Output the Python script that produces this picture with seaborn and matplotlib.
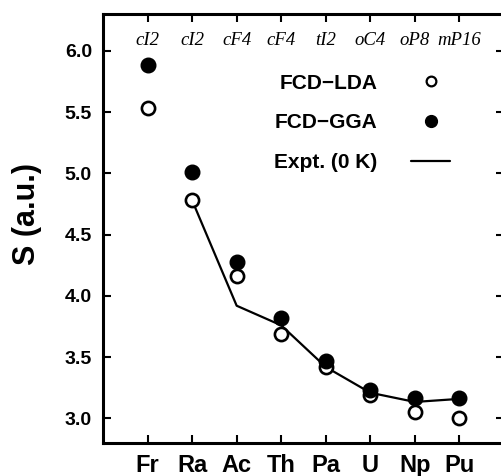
import matplotlib
matplotlib.use("Agg")
import matplotlib.pyplot as plt
import seaborn as sns
import pandas as pd
from matplotlib.lines import Line2D

elements = ["Fr", "Ra", "Ac", "Th", "Pa", "U", "Np", "Pu"]
structures = ["cI2", "cI2", "cF4", "cF4", "tI2", "oC4", "oP8", "mP16"]
lda = [5.53, 4.78, 4.16, 3.69, 3.42, 3.19, 3.05, 3.00]
gga = [5.88, 5.01, 4.28, 3.82, 3.47, 3.23, 3.17, 3.17]
expt_elements = ["Ra", "Ac", "Th", "Pa", "U", "Np", "Pu"]
expt = [4.78, 3.92, 3.76, 3.42, 3.21, 3.135, 3.16]

df = pd.DataFrame({"x": range(len(elements)), "LDA": lda, "GGA": gga})
dfe = pd.DataFrame({"x": [elements.index(e) for e in expt_elements], "S": expt})

sns.set_style("ticks")
plt.rcParams["font.family"] = ["Liberation Sans", "DejaVu Sans"]
for k in ["text.color", "axes.labelcolor", "xtick.color", "ytick.color", "axes.edgecolor"]:
    plt.rcParams[k] = "black"

fig = plt.figure(figsize=(5.02, 4.76), dpi=100)
ax = fig.add_axes([103 / 502, 33 / 476, 401 / 502, 429 / 476])

sns.lineplot(data=dfe, x="x", y="S", ax=ax, color="black", lw=1.6, legend=False)
ax.plot(df["x"], df["LDA"], ls="none", marker="o", ms=9.5, mfc="white", mec="black", mew=1.9, zorder=3)
ax.plot(df["x"], df["GGA"], ls="none", marker="o", ms=10.5, mfc="black", mec="black", zorder=3)

ax.set_xlim(-1, 8)
ax.set_ylim(2.8, 6.3)
ax.set_xticks(range(len(elements)))
ax.set_xticklabels(elements, fontsize=17, fontweight="bold")
yt = [3.0, 3.5, 4.0, 4.5, 5.0, 5.5, 6.0]
ax.set_yticks(yt)
ax.set_yticklabels([f"{v:.1f}" for v in yt], fontsize=14, fontweight="bold")
ax.set_xlabel("")
ax.set_ylabel("S (a.u.)", fontsize=22, fontweight="bold")
ax.yaxis.set_label_coords(-0.152, 0.534)
ax.tick_params(direction="in", length=6, width=1.5, top=True, right=True, pad=8)
for s in ax.spines.values():
    s.set_linewidth(2.2)

for i, st in enumerate(structures):
    ax.text(i, 0.939, st, transform=ax.get_xaxis_transform(), ha="center", va="center",
            fontsize=13.5, fontstyle="italic", family=["Liberation Serif", "DejaVu Serif"])

handles = [
    Line2D([], [], ls="none", marker="o", ms=7, mfc="white", mec="black", mew=1.6),
    Line2D([], [], ls="none", marker="o", ms=8.5, mfc="black", mec="black"),
    Line2D([], [], color="black", lw=1.6),
]
leg = ax.legend(handles, ["FCD\u2212LDA", "FCD\u2212GGA", "Expt. (0 K)"], loc="upper left",
                bbox_to_anchor=(0.38, 0.905), frameon=False, markerfirst=False,
                prop={"weight": "bold", "size": 15}, handlelength=1.9, handletextpad=1.6,
                labelspacing=1.0)

fig.savefig("out.png", dpi=100)
